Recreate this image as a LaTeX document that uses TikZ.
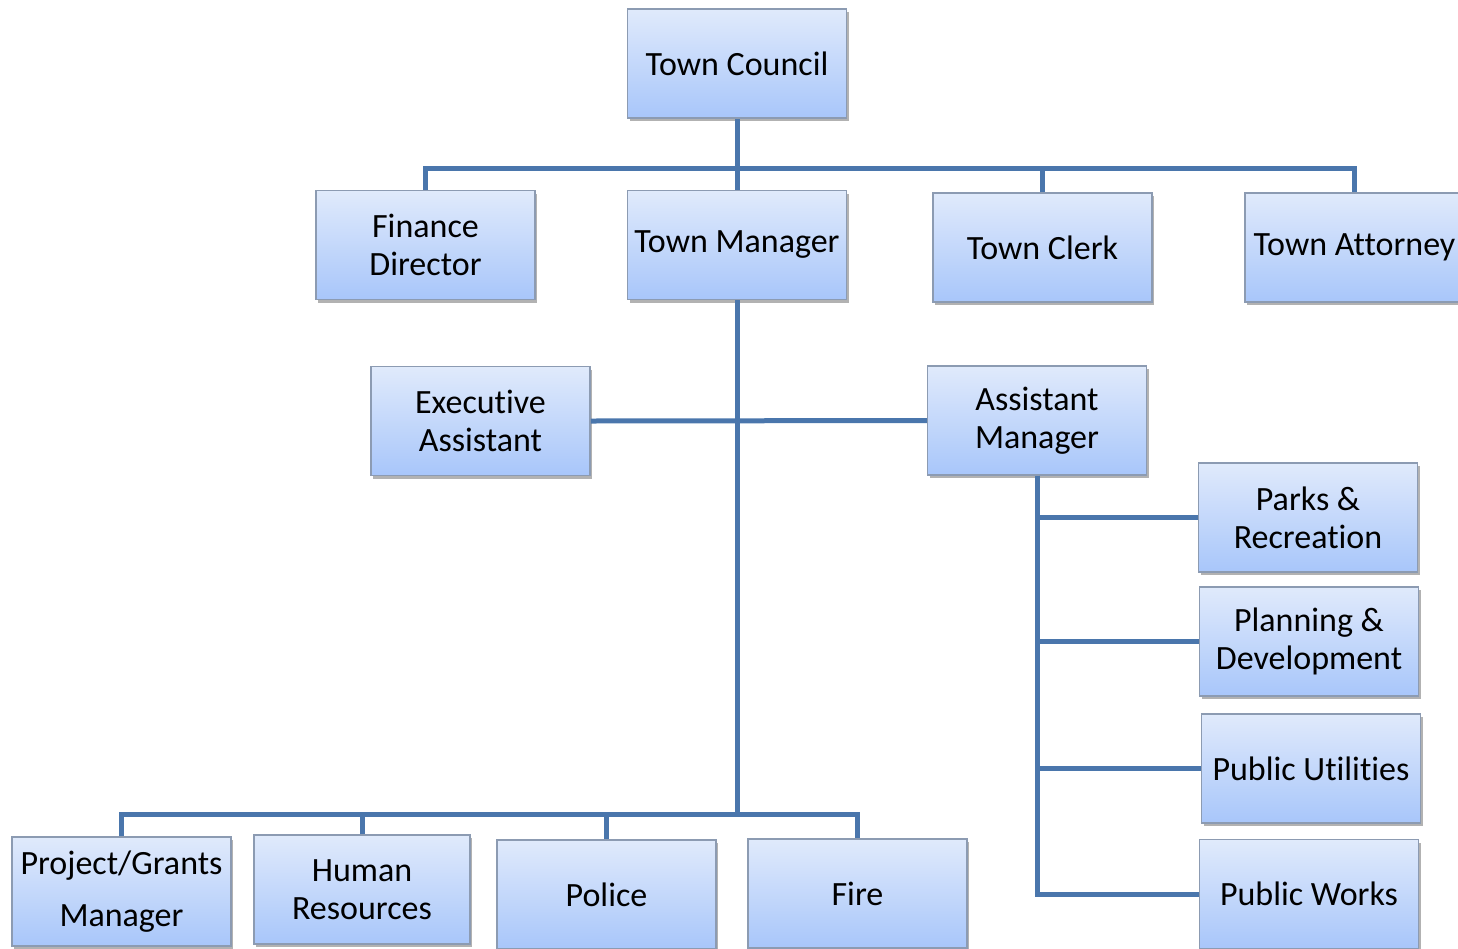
\documentclass[tikz,border=0pt]{standalone}
\usepackage{fontspec}
\setmainfont{Carlito}[Ligatures={NoCommon,NoRare,NoContextual},Contextuals={NoAlternate}]
\usetikzlibrary{shadows}
\definecolor{conncol}{RGB}{74,118,172}
\definecolor{boxtop}{RGB}{224,234,251}
\definecolor{boxbot}{RGB}{168,198,250}
\definecolor{boxedge}{RGB}{140,155,178}
\newcommand{\nolig}{\kern0pt{}}
\begin{document}
\begin{tikzpicture}[x=1pt,y=1pt,
 orgbox/.style={rectangle, draw=boxedge, line width=1.5pt, top color=boxtop, bottom color=boxbot,
   minimum width=219pt, minimum height=109pt, inner sep=0pt, align=center,
   font=\fontsize{34}{38}\selectfont,
   drop shadow={shadow xshift=2pt, shadow yshift=-3pt, opacity=0.3, fill=black}},
 conn/.style={draw=conncol, line width=5pt}]
\useasboundingbox (0,0) rectangle (1458,-948);
% boxes
\node[orgbox] (tc)  at (737,-63.5) {Town Council};
\node[orgbox] (fd)  at (425.5,-245)  {Finance\\Director};
\node[orgbox] (tm)  at (737,-245)  {Town Manager};
\node[orgbox] (tcl) at (1042.5,-247.5) {Town Clerk};
\node[orgbox] (ta)  at (1354.5,-247.5) {Town Attorney};
\node[orgbox] (ea)  at (480.5,-421) {Execut\nolig ive\\Assistant};
\node[orgbox] (am)  at (1037,-420.5) {Assistant\\Manager};
\node[orgbox] (pr)  at (1308,-517.5) {Parks \&\\Recreat\nolig ion};
\node[orgbox] (pd)  at (1309,-641.5) {Planning \&\\Development};
\node[orgbox] (pu)  at (1311,-768.5) {Public Ut\nolig ilit\nolig ies};
\node[orgbox] (pw)  at (1309,-894) {Public Works};
\node[orgbox] (pg)  at (121.5,-891.5) {Project/Grants\\[14pt]Manager};
\node[orgbox, minimum width=216pt] (hr) at (362,-889.5) {Human\\Resources};
\node[orgbox] (po)  at (606.5,-894.5) {Police};
\node[orgbox] (fi)  at (857.5,-893.5) {Fire};
% bus coordinates
\coordinate (busT) at (737,-168);
\coordinate (busB) at (737,-814);
% top connectors
\draw[conn] (tc.south) -- (tm.north);
\draw[conn] (fd.north) -- (fd.north |- busT) -| (ta.north);
\draw[conn] (tcl.north) -- (tcl.north |- busT);
% manager connectors
\draw[conn] (ea.east) -- (am.west);
\draw[conn] (tm.south) -- (tm.south |- busB);
\draw[conn] (pg.north) -- (pg.north |- busB) -| (fi.north);
\draw[conn] (hr.north) -- (hr.north |- busB);
\draw[conn] (po.north) -- (po.north |- busB);
% assistant manager connectors
\draw[conn] (am.south) |- (pr.west);
\draw[conn] (am.south) |- (pd.west);
\draw[conn] (am.south) |- (pu.west);
\draw[conn] (am.south) |- (pw.west);
\end{tikzpicture}
\end{document}
